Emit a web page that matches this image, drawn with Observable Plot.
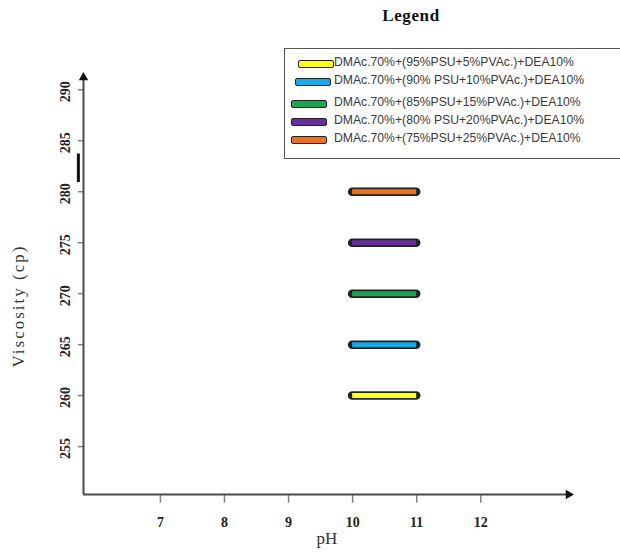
<!DOCTYPE html>
<html>
<head>
<meta charset="utf-8">
<script src="https://cdn.jsdelivr.net/npm/d3@7"></script>
<script src="https://cdn.jsdelivr.net/npm/@observablehq/plot@0.6"></script>
<style>
  body { margin: 0; background: #fff; }
  #wrap { position: relative; width: 620px; height: 552px; overflow: hidden; }
  #legendTitle { position: absolute; left: 361px; top: 6px; width: 100px; text-align: center;
    font: bold 17px "Liberation Serif", serif; color: #111; letter-spacing: 0.6px; }
  #legendBox { position: absolute; left: 284px; top: 48px; width: 345px; height: 111px;
    border: 1.5px solid #555; box-sizing: border-box; background: #fff; }
  .sw { position: absolute; width: 34px; height: 6px; border: 1.6px solid #222; border-radius: 2px; box-sizing: content-box; }
  .lab { position: absolute; left: 49px; white-space: nowrap; font: 12.2px "Liberation Sans", "DejaVu Sans", sans-serif; color: #3a3a3a; }
</style>
</head>
<body>
<div id="wrap"></div>
<script>
// ---- data ----
const series = [
  "DMAc.70%+(95%PSU+5%PVAc.)+DEA10%",
  "DMAc.70%+(90% PSU+10%PVAc.)+DEA10%",
  "DMAc.70%+(85%PSU+15%PVAc.)+DEA10%",
  "DMAc.70%+(80% PSU+20%PVAc.)+DEA10%",
  "DMAc.70%+(75%PSU+25%PVAc.)+DEA10%"
];
const colors = ["#ffff1a", "#1aa8e8", "#1ca453", "#66309a", "#e8731c"];
const viscosity = [260, 265, 270, 275, 280];
const phStart = [10, 10, 10, 10, 10];
const phEnd = [11, 11, 11, 11, 11];
const xTicks = [7, 8, 9, 10, 11, 12];
const yTicks = [255, 260, 265, 270, 275, 280, 285, 290];
const xDomain = [5.8, 13.4];
const yDomain = [250.3, 291.4];
// stray black mark next to the y axis in the original
const strayMark = [{x: 5.72, y1: 280.9, y2: 283.7}];

const bars = series.map((s, i) => ({series: s, color: colors[i], v: viscosity[i], x1: phStart[i], x2: phEnd[i]}));

const serif = "'Liberation Serif', 'Times New Roman', serif";
const axisColor = "#4a4a4a";
const tickColor = "#808080";

const chart = Plot.plot({
  width: 620,
  height: 552,
  marginLeft: 83,
  marginRight: 50,
  marginTop: 75,
  marginBottom: 58,
  x: {type: "linear", domain: xDomain, axis: null},
  y: {type: "linear", domain: yDomain, axis: null},
  style: {background: "#fff"},
  marks: [
    // tick marks
    Plot.ruleX(xTicks, {x: d => d, y1: yDomain[0] - 0.85, y2: yDomain[0], stroke: tickColor, strokeWidth: 1.5}),
    Plot.ruleY(yTicks, {y: d => d, x1: xDomain[0] - 0.08, x2: xDomain[0], stroke: tickColor, strokeWidth: 1.5}),
    // tick labels
    Plot.text(xTicks, {x: d => d, y: yDomain[0], text: d => String(d), dy: 28, fontFamily: serif, fontWeight: "bold", fontSize: 14, fill: "#222"}),
    Plot.text(yTicks, {x: xDomain[0], y: d => d, text: d => String(d), rotate: -90, dx: -18, dy: 2, fontFamily: serif, fontWeight: "bold", fontSize: 14, fill: "#222"}),
    // axes lines
    Plot.ruleX([xDomain[0]], {x: d => d, y1: yDomain[0], y2: yDomain[1], stroke: axisColor, strokeWidth: 2}),
    Plot.ruleY([yDomain[0]], {y: d => d, x1: xDomain[0], x2: xDomain[1], stroke: axisColor, strokeWidth: 2}),
    Plot.dot([{x: xDomain[0], y: yDomain[1]}], {x: "x", y: "y", symbol: "triangle2", r: 4.5, fill: "#111", stroke: "none", dy: 2}),
    Plot.dot([{x: xDomain[1], y: yDomain[0]}], {x: "x", y: "y", symbol: "triangle2", r: 4.5, fill: "#111", stroke: "none", rotate: 90, dx: -2}),
    // axis titles
    Plot.text(["Viscosity (cp)"], {frameAnchor: "left", textAnchor: "middle", text: d => d, rotate: -90, dx: -65, dy: 21, fontFamily: serif, fontSize: 17, fill: "#333"}),
    Plot.text(["pH"], {frameAnchor: "bottom", text: d => d, dy: 49, fontFamily: serif, fontSize: 17, fill: "#333"}),
    // stray mark
    Plot.ruleX(strayMark, {x: "x", y1: "y1", y2: "y2", stroke: "#111", strokeWidth: 3}),
    // bars: outline then fill
    Plot.ruleY(bars, {y: "v", x1: "x1", x2: "x2", stroke: "#222", strokeWidth: 8.5, strokeLinecap: "round"}),
    Plot.ruleY(bars, {y: "v", x1: "x1", x2: "x2", stroke: "color", strokeWidth: 5, strokeLinecap: "butt"})
  ]
});
d3.select(chart).selectAll("text")
  .filter(function() { return this.textContent === "Viscosity (cp)"; })
  .attr("letter-spacing", "2px");
chart.style.position = "absolute";
chart.style.left = "0px";
chart.style.top = "0px";
const wrap = document.getElementById("wrap");
wrap.appendChild(chart);

// legend
const title = document.createElement("div");
title.id = "legendTitle";
title.textContent = "Legend";
wrap.appendChild(title);
const box = document.createElement("div");
box.id = "legendBox";
wrap.appendChild(box);
const rowTops = [9, 27, 49, 67, 85];
const swLeft = [13, 10, 6, 6, 6];
series.forEach((s, i) => {
  const sw = document.createElement("div");
  sw.className = "sw";
  sw.style.left = swLeft[i] + "px";
  sw.style.top = (rowTops[i] + 2) + "px";
  sw.style.background = colors[i];
  box.appendChild(sw);
  const lab = document.createElement("div");
  lab.className = "lab";
  lab.style.top = (rowTops[i] - 3) + "px";
  lab.textContent = s;
  box.appendChild(lab);
});
</script>
</body>
</html>
